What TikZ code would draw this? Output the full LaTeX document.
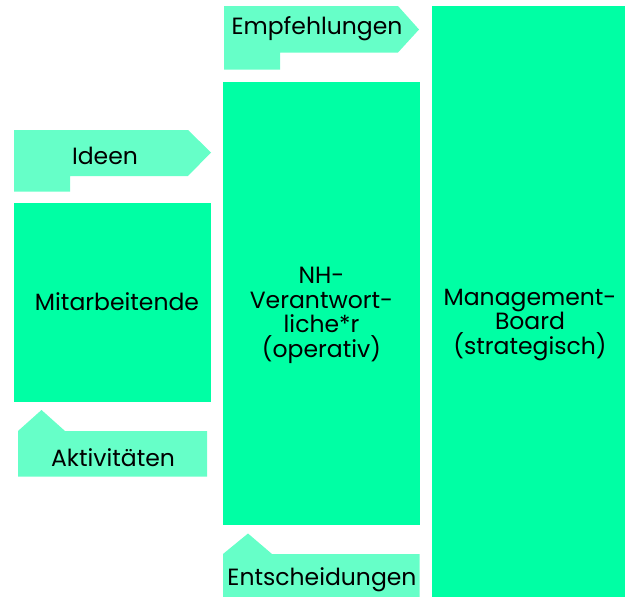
\documentclass[tikz,border=0pt]{standalone}
\usepackage{fontspec}
\setmainfont{Poppins}
\definecolor{boxgreen}{RGB}{0,255,164}
\definecolor{taggreen}{RGB}{102,255,200}
\begin{document}
\begin{tikzpicture}[x=1pt,y=-1pt]
		\tikzset{
			box/.style = {fill=boxgreen},
			tag/.style = {fill=taggreen},
			label text/.style = {font=\fontsize{23.5}{24.5}\selectfont, align=center, text=black, inner sep=0pt}
		}
		\useasboundingbox (0,0) rectangle (625,597);

		% tags
		\fill[tag] (14,130) -- (188,130) -- (211,152.5) -- (188,176) -- (70,176) -- (70,191.5) -- (14,191.5) -- cycle;
		\fill[tag] (18,476.5) -- (18,431) -- (41.5,410) -- (65,431) -- (207,431) -- (207,476.5) -- cycle;
		\fill[tag] (224,6) -- (398,6) -- (419,29.5) -- (398,52.5) -- (280,52.5) -- (280,69.5) -- (224,69.5) -- cycle;
		\fill[tag] (223,597) -- (223,554) -- (248,533.5) -- (272,554) -- (419.5,554) -- (419.5,597) -- cycle;

		% boxes
		\fill[box] (14,203) rectangle (211,401.5);
		\fill[box] (223,82) rectangle (420,525);
		\fill[box] (432,5.5) rectangle (625,597);

		\node[label text] (ideen) at (105,156) {Ideen};
		\node[label text] (aktiv) at (113,458) {Aktivitäten};
		\node[label text] (empf) at (317,29) {Empfehlungen};
		\node[label text] (entsch) at (322,580) {Entscheidungen};
		\node[label text] (mitarb) at (117,302) {Mitarbeitende};
		\node[label text] (nh) at (321.5,315.5) {NH-\\Verantwort-\\liche*r\\(operativ)};
		\node[label text] (board) at (530,325) {Management-\\Board\\(strategisch)};
	\end{tikzpicture}
\end{document}
